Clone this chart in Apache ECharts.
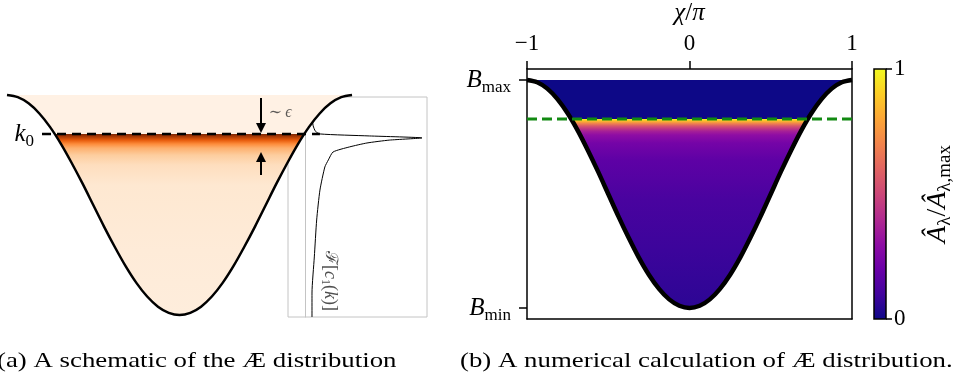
<!DOCTYPE html>
<html>
<head>
<meta charset="utf-8">
<script src="https://cdn.jsdelivr.net/npm/echarts@6/dist/echarts.min.js"></script>
<style>
html,body{margin:0;padding:0;background:#fff;}
#chart{width:960px;height:376px;}
</style>
</head>
<body>
<div id="chart"></div>
<script>
// well shape, chi/pi against B (0 = Bmin, 1 = Bmax)
var chiVals = [-1, -0.9375, -0.875, -0.8125, -0.75, -0.6875, -0.625, -0.5625, -0.5, -0.4375, -0.375, -0.3125, -0.25, -0.1875, -0.125, -0.0625, 0,
               0.0625, 0.125, 0.1875, 0.25, 0.3125, 0.375, 0.4375, 0.5, 0.5625, 0.625, 0.6875, 0.75, 0.8125, 0.875, 0.9375, 1];
var wellB = [1, 0.990, 0.962, 0.916, 0.854, 0.778, 0.691, 0.598, 0.5, 0.402, 0.309, 0.222, 0.146, 0.084, 0.038, 0.010, 0,
             0.010, 0.038, 0.084, 0.146, 0.222, 0.309, 0.402, 0.5, 0.598, 0.691, 0.778, 0.854, 0.916, 0.962, 0.990, 1];

// (a) schematic: k0 level and orange profile below it
var k0Left = 0.823;
var leftProfB = [1, 0.824, 0.823, 0.814, 0.795, 0.777, 0.759, 0.727, 0.682, 0.591, 0.295, 0];
var leftProfV = [0.03, 0.03, 1.0, 0.9, 0.68, 0.5, 0.37, 0.26, 0.17, 0.11, 0.08, 0.065];

// inset curve F[c1(k)] : amplitude against k
var lorB = [0.99, 0.9, 0.86, 0.835, 0.823, 0.814, 0.805, 0.795, 0.782, 0.764, 0.741, 0.705, 0.673, 0.568, 0.432, 0.264, 0.1, -0.009];
var lorA = [0.05, 0.06, 0.07, 0.09, 0.13, 0.55, 1.0, 0.72, 0.53, 0.38, 0.24, 0.2, 0.17, 0.128, 0.1, 0.08, 0.06, 0.06];

// annotations of panel (a)
var k0Span = [-0.797, 0.814];
var arrowChi = 0.4725;
var arrowDown = [0.986, 0.85];
var arrowUp = [0.636, 0.718];
var epsPos = [0.505, 0.918];
var fLabelPos = [0.214, 0.155];

// (b) numerical: k0 level and plasma profile
var k0Right = 0.829;
var rightProfB = [1, 0.830, 0.829, 0.822, 0.811, 0.798, 0.789, 0.776, 0.759, 0.724, 0.649, 0.474, 0.254, 0];
var rightProfV = [0, 0, 1.0, 0.88, 0.72, 0.55, 0.47, 0.37, 0.30, 0.23, 0.17, 0.12, 0.09, 0.06];

var xTicks = [-1, 0, 1];
var xTickLabels = ['\u22121', '0', '1'];
var cbTickLabels = ['0', '1'];

var oranges = ['#fff5eb','#fee6ce','#fdd0a2','#fdae6b','#fd8d3c','#f16913','#d94801','#a63603','#7f2704'];
var plasma = ['#0d0887','#41049d','#6a00a8','#8f0da4','#b12a90','#cc4778','#e16462','#f2844b','#fca636','#fcce25','#f0f921'];

var serif = '"Liberation Serif", "DejaVu Serif", serif';

function pairs(a, b) {
    return a.map(function (v, i) { return [v, b[i]]; });
}
function profileGradient(bArr, vArr, cmap) {
    var stops = bArr.map(function (b, i) {
        return { offset: 1 - b, color: echarts.color.lerp(vArr[i], cmap) };
    });
    return new echarts.graphic.LinearGradient(0, 0, 0, 1, stops);
}
function subRich(big, small) {
    return {
        i: { fontFamily: serif, fontStyle: 'italic', fontSize: big, lineHeight: big + 7, color: '#000', verticalAlign: 'middle' },
        n: { fontFamily: serif, fontSize: big, lineHeight: big + 7, color: '#000', verticalAlign: 'middle' },
        s: { fontFamily: serif, fontSize: small, lineHeight: small, color: '#000', verticalAlign: 'bottom' }
    };
}

var chart = echarts.init(document.getElementById('chart'));

var option = {
    animation: false,
    backgroundColor: '#fff',
    grid: [
        { left: -1.625, top: 90.6, width: 439.9, height: 235.4, outerBoundsMode: 'none' },
        { left: 288, top: 97, width: 139, height: 220, show: true, borderColor: '#c4c4c4', borderWidth: 1, backgroundColor: 'transparent', outerBoundsMode: 'none' },
        { left: 527, top: 69, width: 325, height: 250, outerBoundsMode: 'none' },
        { left: 874, top: 69, width: 12, height: 250, outerBoundsMode: 'none' }
    ],
    xAxis: [
        { gridIndex: 0, type: 'value', min: -1.05, max: 1.5, show: false },
        { gridIndex: 1, type: 'value', min: -0.145, max: 1.043, axisLine: { show: false }, axisTick: { show: false }, axisLabel: { show: false }, splitLine: { show: false } },
        {
            gridIndex: 2, type: 'value', position: 'top', min: -1, max: 1, interval: 1,
            axisLine: { onZero: false, lineStyle: { color: '#000', width: 1.5 } },
            axisTick: { length: 8, lineStyle: { color: '#000', width: 1.5 } },
            axisLabel: {
                margin: 14, color: '#000', fontFamily: serif, fontSize: 23, showMinLabel: true, showMaxLabel: true,
                formatter: function (v) { return xTickLabels[xTicks.indexOf(v)]; }
            },
            splitLine: { show: false },
            name: '{i|\u03c7}{n|/}{i|\u03c0}', nameLocation: 'middle', nameGap: 40,
            nameTextStyle: { rich: subRich(25, 17) }
        },
        { gridIndex: 2, type: 'value', position: 'bottom', min: -1, max: 1, axisLine: { onZero: false, lineStyle: { color: '#000', width: 1.5 } }, axisTick: { show: false }, axisLabel: { show: false }, splitLine: { show: false } },
        { gridIndex: 3, type: 'value', min: 0, max: 1, show: false }
    ],
    yAxis: [
        { gridIndex: 0, type: 'value', min: -0.05, max: 1.02, show: false },
        { gridIndex: 1, type: 'value', min: -0.009, max: 0.991, axisLine: { show: true, onZero: true, lineStyle: { color: '#c4c4c4', width: 1 } }, axisTick: { show: false }, axisLabel: { show: false }, splitLine: { show: false } },
        {
            gridIndex: 2, type: 'value', position: 'left', min: -0.048, max: 1.048,
            axisLine: { onZero: false, lineStyle: { color: '#000', width: 1.5 } },
            axisTick: { customValues: [0, 1], length: 8, lineStyle: { color: '#000', width: 1.5 } },
            axisLabel: {
                customValues: [0, 1], margin: 16, rich: subRich(25, 17),
                formatter: function (v) { return v > 0.5 ? '{i|B}{s|max}' : '{i|B}{s|min}'; }
            },
            splitLine: { show: false }
        },
        { gridIndex: 2, type: 'value', position: 'right', min: -0.048, max: 1.048, axisLine: { onZero: false, lineStyle: { color: '#000', width: 1.5 } }, axisTick: { show: false }, axisLabel: { show: false }, splitLine: { show: false } },
        {
            gridIndex: 3, type: 'value', position: 'right', min: 0, max: 1, interval: 1,
            axisLine: { show: false, onZero: false },
            axisTick: { length: 6, lineStyle: { color: '#000', width: 1.5 } },
            axisLabel: { margin: 8, color: '#000', fontFamily: serif, fontSize: 23, formatter: function (v) { return cbTickLabels[v]; } },
            splitLine: { show: false },
            name: '{i|\u00c2}{s|\u03bb}{n|/}{i|\u00c2}{s|\u03bb,max}', nameLocation: 'middle', nameRotate: 90, nameGap: 34,
            nameTextStyle: { rich: subRich(28, 19) }
        }
    ],
    series: [
        {
            type: 'line', xAxisIndex: 1, yAxisIndex: 1, data: pairs(lorA, lorB),
            showSymbol: false, smooth: 0.2, lineStyle: { color: '#000', width: 1 }, z: 1, silent: true
        },
        {
            type: 'line', xAxisIndex: 0, yAxisIndex: 0, data: pairs(chiVals, wellB),
            showSymbol: false, smooth: 0.3, lineStyle: { color: '#000', width: 2.5 },
            areaStyle: { origin: 1, opacity: 1, color: profileGradient(leftProfB, leftProfV, oranges) },
            z: 2, silent: true
        },
        {
            type: 'line', xAxisIndex: 0, yAxisIndex: 0,
            data: [
                { value: [k0Span[0], k0Left], label: { show: true, position: 'left', distance: 8, formatter: '{i|k}{s|0}', rich: subRich(25, 17) } },
                [k0Span[1], k0Left]
            ],
            symbol: 'circle', symbolSize: 0, showSymbol: true,
            lineStyle: { color: '#000', width: 2.5, type: [9, 6] }, z: 4, silent: true
        },
        {
            type: 'lines', coordinateSystem: 'cartesian2d', xAxisIndex: 0, yAxisIndex: 0,
            symbol: ['none', 'triangle'], symbolSize: 10,
            lineStyle: { color: '#000', width: 2, opacity: 1, curveness: 0 },
            data: [
                { coords: [[arrowChi, arrowDown[0]], [arrowChi, arrowDown[1]]] },
                { coords: [[arrowChi, arrowUp[0]], [arrowChi, arrowUp[1]]] }
            ],
            z: 4, silent: true
        },
        {
            type: 'scatter', xAxisIndex: 0, yAxisIndex: 0, data: [epsPos], symbolSize: 0, z: 4, silent: true,
            label: {
                show: true, position: 'right', distance: 2, formatter: '{n|\u223c} {i|\u03f5}',
                rich: { n: { fontFamily: serif, fontSize: 16, color: '#333' }, i: { fontFamily: serif, fontSize: 16, fontStyle: 'italic', color: '#333' } }
            }
        },
        {
            type: 'scatter', xAxisIndex: 1, yAxisIndex: 1, data: [fLabelPos], symbolSize: 0, z: 4, silent: true,
            label: {
                show: true, position: 'inside', rotate: -90,
                formatter: '{c|\u2131}{n|[}{i|c}{s|1}{n|(}{i|k}{n|)]}',
                rich: {
                    c: { fontFamily: '"DejaVu Serif", serif', fontSize: 17, color: '#222', lineHeight: 21, verticalAlign: 'middle' },
                    n: { fontFamily: serif, fontSize: 18, color: '#222', lineHeight: 21, verticalAlign: 'middle' },
                    i: { fontFamily: serif, fontSize: 18, fontStyle: 'italic', color: '#222', lineHeight: 21, verticalAlign: 'middle' },
                    s: { fontFamily: serif, fontSize: 12, color: '#222', lineHeight: 12, verticalAlign: 'bottom' }
                }
            }
        },
        {
            type: 'line', xAxisIndex: 2, yAxisIndex: 2, data: pairs(chiVals, wellB),
            showSymbol: false, smooth: 0.3, lineStyle: { color: '#000', width: 4.5 },
            areaStyle: { origin: 1, opacity: 1, color: profileGradient(rightProfB, rightProfV, plasma) },
            z: 2, silent: true
        },
        {
            type: 'line', xAxisIndex: 2, yAxisIndex: 2, data: [[-1, k0Right], [1, k0Right]],
            showSymbol: false, lineStyle: { color: '#128a12', width: 3, type: [10, 5] }, z: 4, silent: true
        },
        {
            type: 'custom', xAxisIndex: 4, yAxisIndex: 4, data: [[0, 1]], silent: true,
            renderItem: function (params, api) {
                var p0 = api.coord([0, 1]);
                var p1 = api.coord([1, 0]);
                var stops = plasma.map(function (c, i) { return { offset: 1 - i / (plasma.length - 1), color: c }; }).reverse();
                return {
                    type: 'rect',
                    shape: { x: p0[0], y: p0[1], width: p1[0] - p0[0], height: p1[1] - p0[1] },
                    style: { fill: new echarts.graphic.LinearGradient(0, 0, 0, 1, stops), stroke: '#000', lineWidth: 1.5 }
                };
            }
        }
    ],
    graphic: [
        { type: 'text', left: -3, top: 350, scaleX: 1.22, style: { text: '(a) A schematic of the \u00c6 distribution', font: '22px "Liberation Serif"', fill: '#000' } },
        { type: 'text', left: 460, top: 350, scaleX: 1.22, style: { text: '(b) A numerical calculation of \u00c6 distribution.', font: '22px "Liberation Serif"', fill: '#000' } }
    ]
};

chart.setOption(option);
</script>
</body>
</html>
